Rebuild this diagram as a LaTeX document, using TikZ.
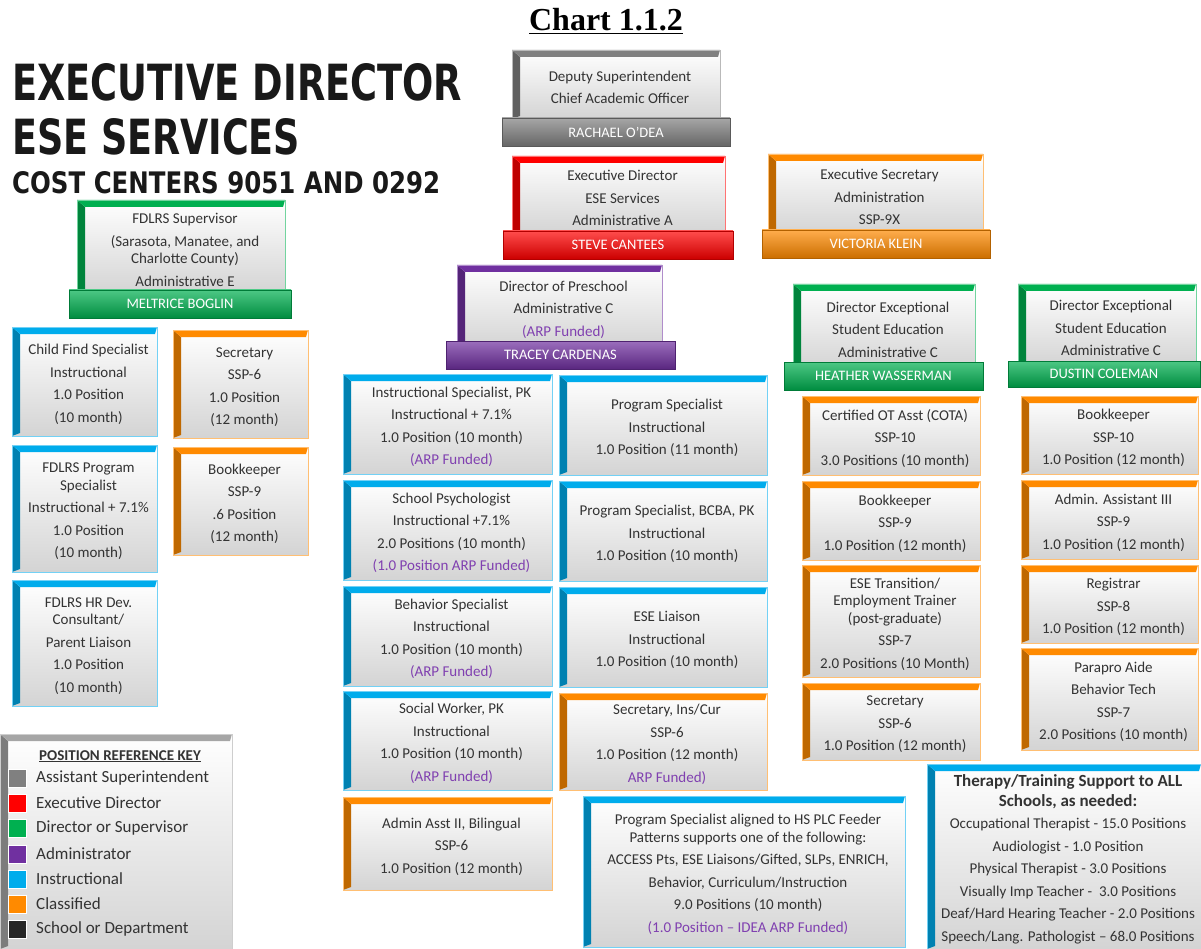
\documentclass[tikz,border=0pt]{standalone}
\usepackage{fontspec}
\usepackage{graphicx}
\setmainfont{Carlito}
\newfontfamily\titlefont{DejaVu Sans}
\newfontfamily\chartfont{Liberation Serif}
\definecolor{cgrey}{HTML}{808080}
\definecolor{cred}{HTML}{FF0000}
\definecolor{cgreen}{HTML}{00B050}
\definecolor{cpurple}{HTML}{7030A0}
\definecolor{cblue}{HTML}{00ACEC}
\definecolor{corange}{HTML}{FF8A00}
\definecolor{ctext}{HTML}{333333}
\definecolor{arp}{HTML}{8040B0}
\definecolor{kblack}{HTML}{262626}
\colorlet{ckey}{black!35}
\tikzset{
  bx/.style={draw=#1!55, line width=0.6pt, top color=white, bottom color=black!17, inner sep=0pt,
    path picture={
      \fill[#1!75!black] (path picture bounding box.north west) -- (path picture bounding box.south west)
        -- ([shift={(8pt,3pt)}]path picture bounding box.south west)
        -- ([shift={(8pt,-7pt)}]path picture bounding box.north west) -- cycle;
      \fill[#1] (path picture bounding box.north west) -- (path picture bounding box.north east)
        -- ([shift={(-2pt,-7pt)}]path picture bounding box.north east)
        -- ([shift={(8pt,-7pt)}]path picture bounding box.north west) -- cycle;
    }},
  bxtext/.style={inner sep=0pt, align=center, text=ctext, font=\fontsize{15}{22.5}\selectfont},
  nb/.style={draw=#1!70!black, line width=0.5pt, top color=#1!70!white, middle color=#1,
    bottom color=#1!80!black, text=white, font=\fontsize{14.5}{16}\selectfont, inner sep=0pt},
  sq/.style={minimum size=18pt, inner sep=0pt, draw=white, line width=0.8pt},
  keytxt/.style={anchor=west, inner sep=0pt, text=ctext, font=\fontsize{17}{19}\selectfont},
  ttl/.style={anchor=base west, inner sep=0pt, text=black!90},
}
\newcommand\bx[7]{\node[bx=#6, minimum width={(#4)-(#2)}, minimum height={(#5)-(#3)}] (#1) at ({((#2)+(#4))/2},{((#3)+(#5))/2}) {};
  \node[bxtext] (#1-t) at ([shift={(4pt,-3pt)}]#1.center) {#7};}
\newcommand\nb[7]{\node[nb=#6, minimum width={(#4)-(#2)}, minimum height={(#5)-(#3)}] (#1) at ({((#2)+(#4))/2},{((#3)+(#5))/2}) {#7};}
\begin{document}
\begin{tikzpicture}[x=1pt,y=-1pt]
\useasboundingbox[fill=white] (0,0) rectangle (1201,949);

% titles
\node[anchor=base, inner sep=0pt, font=\chartfont\bfseries\fontsize{32}{36}\selectfont] (chart) at (606,31) {\underline{Chart 1.1.2}};
\node[ttl] (t1) at (12,101) {\resizebox{450pt}{37pt}{\titlefont\bfseries EXECUTIVE DIRECTOR}};
\node[ttl] (t2) at (12,155) {\resizebox{288pt}{36pt}{\titlefont\bfseries ESE SERVICES}};
\node[ttl] (t3) at (12,194) {\resizebox{428pt}{22pt}{\titlefont\bfseries COST CENTERS 9051 AND 0292}};

% top row
\bx{dep}{512}{50}{720}{119}{cgrey}{Deputy Superintendent\\Chief Academic Officer}
\nb{depn}{502}{118}{730}{146}{cgrey}{RACHAEL O’DEA}
\bx{exd}{512}{156}{725}{234}{cred}{Executive Director\\ESE Services\\Administrative A}
\nb{exdn}{503}{231}{733}{259}{cred}{STEVE CANTEES}
\bx{esec}{768}{154}{983}{234}{corange}{Executive Secretary\\Administration\\SSP-9X}
\nb{esecn}{762}{230}{990}{258}{corange}{VICTORIA KLEIN}
\bx{fsup}{77}{200}{285}{294}{cgreen}{FDLRS Supervisor\\(Sarasota, Manatee, and\\[-5pt]Charlotte County)\\Administrative E}
\nb{fsupn}{69}{290}{291}{318}{cgreen}{MELTRICE BOGLIN}
\bx{pre}{457}{265}{662}{348}{cpurple}{Director of  Preschool\\Administrative C\\\textcolor{arp}{(ARP Funded)}}
\nb{pren}{446}{341}{675}{369}{cpurple}{TRACEY CARDENAS}
\bx{dir1}{793}{284}{975}{369}{cgreen}{Director Exceptional\\Student Education\\Administrative C}
\nb{dir1n}{784}{362}{983}{390}{cgreen}{HEATHER WASSERMAN}
\bx{dir2}{1018}{284}{1196}{366}{cgreen}{Director Exceptional\\Student Education\\Administrative C}
\nb{dir2n}{1008}{361}{1200}{387}{cgreen}{DUSTIN COLEMAN}

% left columns
\bx{cfs}{12}{327}{157}{436}{cblue}{Child Find Specialist\\Instructional\\1.0 Position\\(10 month)}
\bx{fps}{12}{445}{157}{572}{cblue}{FDLRS Program\\[-5pt]Specialist\\Instructional + 7.1\%\\1.0 Position\\(10 month)}
\bx{fhr}{12}{580}{157}{706}{cblue}{FDLRS HR Dev.\\[-5pt]Consultant/\\Parent Liaison\\1.0 Position\\(10 month)}
\bx{lsec}{173}{330}{308}{438}{corange}{Secretary\\SSP-6\\1.0 Position\\(12 month)}
\bx{lbk}{173}{447}{308}{555}{corange}{Bookkeeper\\SSP-9\\.6 Position\\(12 month)}

% middle grid
\bx{isp}{343}{374}{552}{474}{cblue}{Instructional Specialist, PK\\Instructional + 7.1\%\\1.0 Position (10 month)\\\textcolor{arp}{(ARP Funded)}}
\bx{ps1}{559}{375}{767}{475}{cblue}{Program Specialist\\Instructional\\1.0 Position (11 month)}
\bx{psy}{343}{480}{552}{580}{cblue}{School Psychologist\\Instructional +7.1\%\\2.0 Positions (10 month)\\\textcolor{arp}{(1.0 Position ARP Funded)}}
\bx{bcba}{559}{481}{767}{581}{cblue}{Program Specialist, BCBA, PK\\Instructional\\1.0 Position (10 month)}
\bx{beh}{343}{586}{552}{686}{cblue}{Behavior Specialist\\Instructional\\1.0 Position (10 month)\\\textcolor{arp}{(ARP Funded)}}
\bx{liai}{559}{587}{767}{687}{cblue}{ESE Liaison\\Instructional\\1.0 Position (10 month)}
\bx{sw}{343}{691}{552}{790}{cblue}{Social Worker, PK\\Instructional\\1.0 Position (10 month)\\\textcolor{arp}{(ARP Funded)}}
\bx{secic}{559}{693}{767}{790}{corange}{Secretary, Ins/Cur\\SSP-6\\1.0 Position (12 month)\\\textcolor{arp}{ARP Funded)}}
\bx{aa2}{343}{797}{552}{890}{corange}{Admin Asst II, Bilingual\\SSP-6\\1.0 Position (12 month)}
\bx{psa}{583}{796}{905}{947}{cblue}{Program Specialist aligned to HS PLC Feeder\\[-5pt]Patterns supports one of the following:\\ACCESS Pts, ESE Liaisons/Gifted, SLPs, ENRICH,\\Behavior, Curriculum/Instruction\\9.0 Positions (10 month)\\\textcolor{arp}{(1.0 Position -- IDEA ARP Funded)}}

% right columns
\bx{cota}{802}{396}{980}{475}{corange}{Certified OT Asst (COTA)\\SSP-10\\3.0 Positions (10 month)}
\bx{bk1}{802}{481}{980}{560}{corange}{Bookkeeper\\SSP-9\\1.0 Position (12 month)}
\bx{eset}{802}{565}{980}{677}{corange}{ESE Transition/\\[-5pt]Employment Trainer\\[-5pt](post-graduate)\\SSP-7\\2.0 Positions (10 Month)}
\bx{sec2}{802}{683}{980}{760}{corange}{Secretary\\SSP-6\\1.0 Position (12 month)}
\bx{bk2}{1021}{396}{1198}{474}{corange}{Bookkeeper\\SSP-10\\1.0 Position (12 month)}
\bx{aa3}{1021}{480}{1198}{559}{corange}{Admin. Assistant III\\SSP-9\\1.0 Position (12 month)}
\bx{reg}{1021}{565}{1198}{643}{corange}{Registrar\\SSP-8\\1.0 Position (12 month)}
\bx{para}{1021}{648}{1198}{750}{corange}{Parapro Aide\\Behavior Tech\\SSP-7\\2.0 Positions (10 month)}

% therapy
\bx{ther}{927}{764}{1201}{949}{cblue}{{\fontsize{17}{19}\selectfont\bfseries Therapy/Training Support to ALL}\\[-3pt]{\fontsize{17}{19}\selectfont\bfseries Schools, as needed:}\\Occupational Therapist - 15.0 Positions\\Audiologist - 1.0 Position\\Physical Therapist - 3.0 Positions\\Visually Imp Teacher -\ \ 3.0 Positions\\Deaf/Hard Hearing Teacher - 2.0 Positions\\Speech/Lang. Pathologist -- 68.0 Positions}

% legend
\bx{key}{0}{734}{232}{949}{ckey}{}
\node[anchor=base, inner sep=0pt, text=ctext, font=\fontsize{15}{18}\selectfont\bfseries] (keyt) at (120,760) {\underline{POSITION REFERENCE KEY}};
\node[sq, fill=cgrey] (k1) at (17,778) {};
\node[sq, fill=cred] (k2) at (17,803) {};
\node[sq, fill=cgreen] (k3) at (17,828) {};
\node[sq, fill=cpurple] (k4) at (17,854) {};
\node[sq, fill=cblue] (k5) at (17,879) {};
\node[sq, fill=corange] (k6) at (17,904) {};
\node[sq, fill=kblack] (k7) at (17,929) {};
\node[keytxt] (l1) at (36,778) {Assistant Superintendent};
\node[keytxt] (l2) at (36,803) {Executive Director};
\node[keytxt] (l3) at (36,828) {Director or Supervisor};
\node[keytxt] (l4) at (36,854) {Administrator};
\node[keytxt] (l5) at (36,879) {Instructional};
\node[keytxt] (l6) at (36,904) {Classified};
\node[keytxt] (l7) at (36,929) {School or Department};
\end{tikzpicture}
\end{document}
